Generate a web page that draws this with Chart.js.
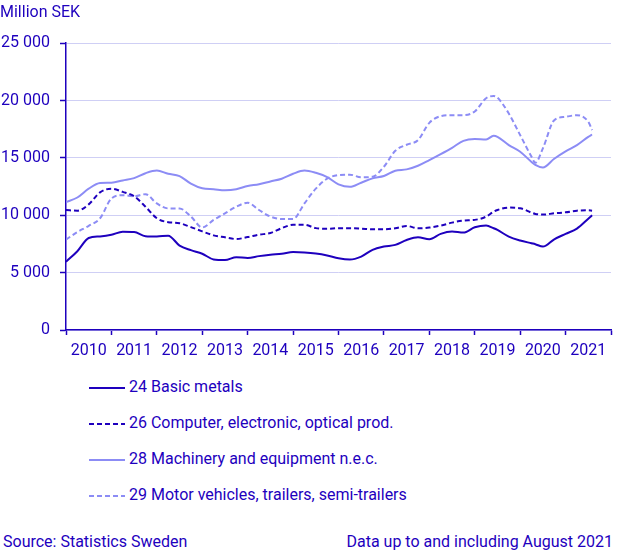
<!DOCTYPE html>
<html>
<head>
<meta charset="utf-8">
<script src="https://cdn.jsdelivr.net/npm/chart.js@4"></script>
<style>
  body { margin: 0; background: #fff; font-family: Roboto, sans-serif; color: #1e00be; }
  #wrap { position: relative; width: 635px; height: 554px; }
  #box { position: absolute; left: 0; top: 0; width: 635px; height: 360px; }
  #legend { position: absolute; left: 89px; top: 377px; font-size: 16px; }
  #legend div { height: 36px; display: flex; align-items: flex-start; }
  #legend svg { margin-top: 9px; margin-right: 4px; }
  .foot { position: absolute; top: 532px; font-size: 16px; }
</style>
</head>
<body>
<div id="wrap">
  <div id="box"><canvas id="chart"></canvas></div>
  <div id="legend"></div>
  <div class="foot" style="left:3px">Source: Statistics Sweden</div>
  <div class="foot" style="right:22px">Data up to and including August 2021</div>
</div>
<script>
// months since January 2010
const months = [0, 3, 6, 9, 12, 15, 18, 21, 24, 27, 30, 33, 36, 39, 42, 45, 48, 51, 54, 57,
  60, 63, 66, 69, 72, 75, 78, 81, 84, 87, 90, 93, 96, 99, 102, 105, 108, 111, 113, 114,
  117, 120, 123, 124, 126, 129, 132, 135, 138, 139];
const yearLabels = ['2010', '2011', '2012', '2013', '2014', '2015', '2016', '2017', '2018', '2019', '2020', '2021'];

const basicMetals = [5950, 6870, 8020, 8160, 8300, 8560, 8540, 8180, 8150, 8220, 7360, 6960, 6650, 6150, 6100, 6350, 6270, 6440, 6560, 6640,
  6790, 6760, 6670, 6500, 6250, 6140, 6400, 6990, 7270, 7420, 7850, 8090, 7910, 8380, 8580, 8490, 8950, 9100, 8870, 8720,
  8140, 7800, 7560, 7480, 7270, 7910, 8380, 8840, 9700, 10000];
const computer = [10460, 10400, 10950, 12000, 12320, 12040, 11660, 10750, 9740, 9400, 9310, 8970, 8600, 8250, 8080, 7930, 8100, 8310, 8450, 8880,
  9170, 9170, 8880, 8820, 8870, 8870, 8840, 8780, 8780, 8870, 9070, 8870, 8930, 9100, 9360, 9540, 9600, 9880, 10320, 10460,
  10670, 10610, 10230, 10120, 10060, 10170, 10260, 10400, 10430, 10400];
const machinery = [11150, 11550, 12320, 12810, 12840, 13040, 13240, 13670, 13900, 13620, 13420, 12760, 12350, 12270, 12180, 12270, 12550, 12700, 12950, 13190,
  13620, 13900, 13700, 13330, 12700, 12480, 12840, 13220, 13420, 13880, 14000, 14320, 14810, 15330, 15880, 16490, 16640, 16600, 16930, 16840,
  16120, 15540, 14650, 14400, 14170, 14930, 15570, 16120, 16840, 17040];
const motorVehicles = [7880, 8540, 9080, 9740, 11460, 11750, 11660, 11840, 11030, 10600, 10600, 9890, 8940, 9600, 10170, 10750, 11090, 10460, 9890, 9680,
  9680, 11030, 12320, 13190, 13500, 13540, 13310, 13360, 14230, 15620, 16150, 16550, 18060, 18640, 18730, 18730, 19050, 20200, 20400, 20250,
  18870, 16990, 15100, 14580, 15830, 18290, 18580, 18730, 18150, 17430];

const dark = '#1e00be';
const light = '#8c8cf5';
const gridColor = '#cfcff5';

const toPoints = vals => vals.map((v, i) => ({ x: months[i], y: v }));
const series = (label, vals, color, dashed) => ({
  label: label,
  data: toPoints(vals),
  borderColor: color,
  backgroundColor: color,
  borderWidth: 2,
  borderDash: dashed ? [5, 3] : [],
  pointRadius: 0,
  cubicInterpolationMode: 'monotone',
  fill: false
});

Chart.defaults.font.family = 'Roboto';
Chart.defaults.font.size = 16;
Chart.defaults.color = dark;

const chart = new Chart(document.getElementById('chart'), {
  type: 'line',
  data: {
    datasets: [
      series('24 Basic metals', basicMetals, dark, false),
      series('26 Computer, electronic, optical prod.', computer, dark, true),
      series('28 Machinery and equipment n.e.c.', machinery, light, false),
      series('29 Motor vehicles, trailers, semi-trailers', motorVehicles, light, true)
    ]
  },
  options: {
    responsive: true,
    maintainAspectRatio: false,
    animation: false,
    layout: { padding: { left: 0, right: 24, bottom: 0 } },
    plugins: {
      legend: { display: false },
      tooltip: { enabled: false },
      title: {
        display: true,
        text: 'Million SEK',
        align: 'start',
        color: dark,
        font: { size: 16, weight: 'normal' },
        padding: { top: 3, bottom: 21 }
      }
    },
    scales: {
      x: {
        type: 'linear',
        min: 0,
        max: 144,
        afterFit: scale => { scale.height = 30; },
        grid: { drawOnChartArea: false, drawTicks: true, tickLength: 5, tickColor: dark, tickWidth: 1.5 },
        border: { color: dark, width: 1.5 },
        ticks: {
          stepSize: 12,
          autoSkip: false,
          maxRotation: 0,
          padding: 6,
          labelOffset: 22.7,
          color: dark,
          callback: (value, index) => yearLabels[index] || ''
        }
      },
      y: {
        min: 0,
        max: 25000,
        afterFit: scale => { scale.width = 66; },
        grid: { color: gridColor, lineWidth: 1, tickLength: 6, tickColor: dark, tickWidth: 1.5 },
        border: { color: dark, width: 1.5 },
        ticks: {
          stepSize: 5000,
          padding: 10,
          color: dark,
          callback: value => String(value).replace(/\B(?=(\d{3})+(?!\d))/g, ' ')
        }
      }
    }
  }
});

// legend in html, one item per row
const legendBox = document.getElementById('legend');
chart.data.datasets.forEach(ds => {
  const row = document.createElement('div');
  const dash = ds.borderDash.length ? ' stroke-dasharray="5 3"' : '';
  row.innerHTML = '<svg width="36" height="4"><line x1="0" y1="2" x2="36" y2="2" stroke="' +
    ds.borderColor + '" stroke-width="2"' + dash + '/></svg><span>' + ds.label + '</span>';
  legendBox.appendChild(row);
});
</script>
</body>
</html>
